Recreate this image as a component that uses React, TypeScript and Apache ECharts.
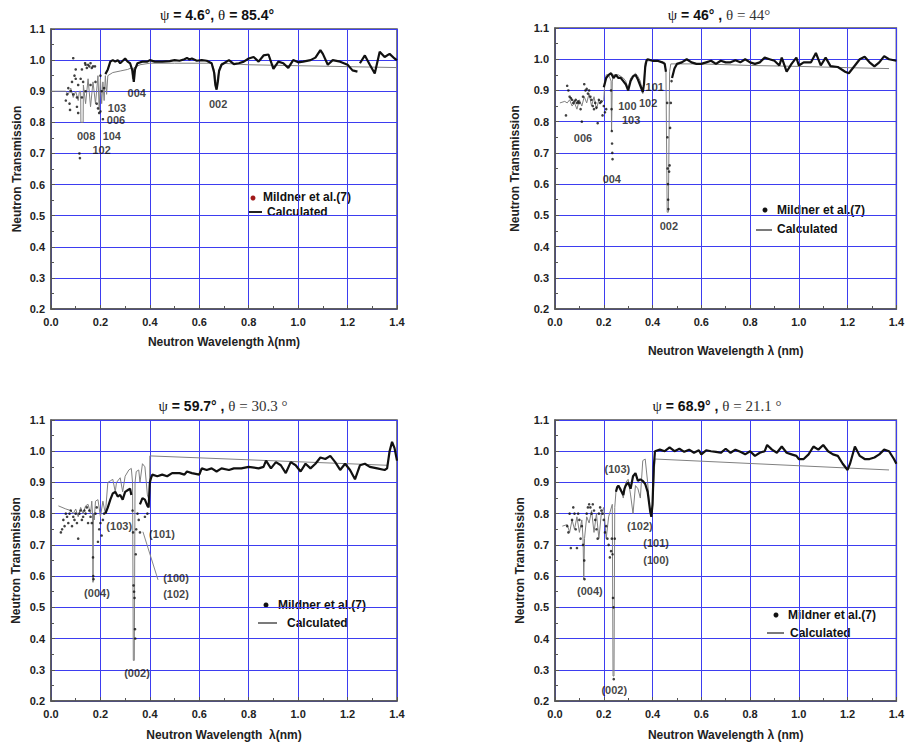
import React, { useEffect, useRef } from "react";
import * as echarts from "echarts";

// ---------- DATA ----------
// Panel 1: psi = 4.6, theta = 85.4
const calc1 = [[0.0,0.90],[0.06,0.90],[0.07,0.89],[0.08,0.91],[0.09,0.88],[0.10,0.90],[0.11,0.87],[0.115,0.90],[0.12,0.90],[0.121,0.80],[0.13,0.80],[0.131,0.92],[0.14,0.86],[0.15,0.94],[0.16,0.85],[0.17,0.93],[0.18,0.86],[0.19,0.95],[0.195,0.84],[0.20,0.94],[0.205,0.86],[0.21,0.93],[0.215,0.87],[0.22,0.95],[0.225,0.89],[0.23,0.95],[0.25,0.96],[0.28,0.965],[0.31,0.97],[0.325,0.975],[0.33,0.94],[0.335,0.975],[0.36,0.985],[0.40,0.99],[0.50,0.99],[0.60,0.99],[0.65,0.99],[0.66,0.97],[0.67,0.92],[0.68,0.97],[0.69,0.99],[0.80,0.985],[1.00,0.982],[1.20,0.979],[1.40,0.976]];
const meas1Line = [[0.22,0.955],[0.23,0.97],[0.24,0.995],[0.25,1.0],[0.26,0.995],[0.27,1.0],[0.28,0.99],[0.30,1.005],[0.31,0.995],[0.32,0.99],[0.33,0.965],[0.335,0.93],[0.34,0.97],[0.35,0.99],[0.37,0.995],[0.39,0.995],[0.40,1.0],[0.42,0.995],[0.45,0.995],[0.48,0.997],[0.50,1.0],[0.52,0.998],[0.54,1.003],[0.55,1.007],[0.56,1.002],[0.57,1.005],[0.59,0.998],[0.61,1.0],[0.63,0.998],[0.65,0.99],[0.66,0.96],[0.665,0.92],[0.67,0.905],[0.675,0.93],[0.68,0.965],[0.69,0.985],[0.70,0.99],[0.72,1.0],[0.74,0.987],[0.76,0.99],[0.78,0.995],[0.80,1.005],[0.82,1.01],[0.84,0.995],[0.86,1.015],[0.88,1.018],[0.90,0.972],[0.92,0.995],[0.94,0.99],[0.96,0.975],[0.98,1.0],[1.00,0.993],[1.02,0.995],[1.05,1.0],[1.07,1.008],[1.09,1.032],[1.10,1.02],[1.12,0.985],[1.14,1.0],[1.17,0.995],[1.20,0.985],[1.22,0.967],[1.24,0.963],[1.245,"-"],[1.25,0.99],[1.27,1.015],[1.29,0.985],[1.31,0.957],[1.33,1.027],[1.35,1.01],[1.37,1.02],[1.39,1.005],[1.40,1.0]];
const meas1Dots = [[0.06,0.87],[0.065,0.89],[0.07,0.91],[0.075,0.86],[0.077,0.84],[0.08,0.90],[0.085,0.93],[0.09,0.89],[0.09,1.006],[0.095,0.95],[0.10,0.97],[0.10,0.94],[0.105,0.88],[0.105,0.85],[0.11,0.92],[0.11,0.83],[0.115,0.70],[0.117,0.685],[0.12,0.94],[0.125,0.97],[0.13,0.93],[0.138,0.99],[0.14,0.985],[0.145,0.975],[0.15,0.985],[0.155,0.98],[0.16,0.99],[0.165,0.975],[0.17,0.98],[0.178,0.98],[0.18,0.93],[0.185,0.86],[0.19,0.845],[0.195,0.83],[0.20,0.835],[0.205,0.90],[0.21,0.81],[0.215,0.91],[0.125,0.88],[0.14,0.90],[0.16,0.92],[0.20,0.95]];
const labels1 = [[0.347,0.894,"004"],[0.676,0.859,"002"],[0.267,0.847,"103"],[0.263,0.807,"006"],[0.142,0.756,"008"],[0.246,0.756,"104"],[0.205,0.711,"102"]];

// Panel 2: psi = 46, theta = 44
const calc2 = [[0.02,0.86],[0.04,0.865],[0.05,0.86],[0.06,0.87],[0.07,0.85],[0.08,0.86],[0.09,0.84],[0.10,0.87],[0.11,0.85],[0.12,0.88],[0.13,0.86],[0.14,0.89],[0.15,0.85],[0.16,0.88],[0.17,0.84],[0.18,0.87],[0.19,0.86],[0.20,0.87],[0.205,0.93],[0.21,0.95],[0.22,0.95],[0.23,0.93],[0.232,0.77],[0.235,0.93],[0.24,0.95],[0.26,0.95],[0.28,0.94],[0.29,0.93],[0.30,0.905],[0.31,0.94],[0.33,0.955],[0.34,0.945],[0.35,0.93],[0.36,0.89],[0.365,0.93],[0.37,0.99],[0.38,0.995],[0.42,0.995],[0.45,0.99],[0.455,0.96],[0.46,0.51],[0.465,0.51],[0.47,0.96],[0.475,0.985],[0.60,0.985],[0.80,0.98],[1.00,0.977],[1.20,0.973],[1.37,0.97]];
const meas2Line = [[0.20,0.91],[0.21,0.94],[0.22,0.95],[0.23,0.955],[0.24,0.94],[0.25,0.95],[0.26,0.94],[0.27,0.94],[0.28,0.93],[0.29,0.92],[0.30,0.90],[0.31,0.93],[0.32,0.945],[0.33,0.95],[0.34,0.935],[0.35,0.915],[0.36,0.895],[0.365,0.92],[0.37,0.975],[0.375,0.995],[0.38,1.0],[0.40,0.995],[0.42,0.995],[0.44,0.99],[0.45,0.985],[0.455,0.96],[0.457,"-"],[0.48,0.94],[0.49,0.97],[0.50,0.985],[0.52,0.99],[0.54,1.0],[0.56,0.99],[0.58,0.985],[0.60,0.985],[0.62,0.99],[0.64,0.995],[0.66,0.985],[0.68,0.995],[0.70,0.99],[0.72,0.99],[0.74,0.997],[0.76,0.99],[0.78,1.0],[0.80,0.99],[0.82,0.985],[0.84,0.99],[0.86,1.005],[0.88,1.0],[0.90,0.995],[0.92,0.98],[0.93,1.005],[0.95,0.96],[0.97,0.985],[0.99,1.005],[1.00,0.98],[1.02,0.99],[1.05,0.99],[1.07,1.02],[1.09,0.98],[1.11,1.005],[1.13,0.978],[1.16,0.975],[1.19,0.96],[1.205,0.955],[1.23,0.98],[1.25,1.0],[1.27,1.008],[1.29,0.99],[1.31,0.977],[1.33,0.99],[1.35,1.01],[1.37,1.0],[1.40,0.995]];
const meas2Dots = [[0.045,0.82],[0.05,0.915],[0.055,0.90],[0.06,0.88],[0.065,0.875],[0.07,0.87],[0.075,0.86],[0.08,0.865],[0.085,0.87],[0.09,0.86],[0.095,0.865],[0.10,0.86],[0.105,0.84],[0.11,0.80],[0.115,0.88],[0.12,0.92],[0.125,0.90],[0.13,0.905],[0.135,0.89],[0.14,0.90],[0.145,0.88],[0.15,0.87],[0.155,0.85],[0.16,0.84],[0.165,0.86],[0.17,0.845],[0.175,0.795],[0.18,0.87],[0.185,0.86],[0.19,0.865],[0.195,0.82],[0.20,0.85],[0.205,0.83],[0.21,0.84],[0.23,0.90],[0.232,0.84],[0.233,0.77],[0.234,0.73],[0.235,0.70],[0.236,0.68],[0.46,0.86],[0.461,0.75],[0.462,0.65],[0.463,0.60],[0.464,0.55],[0.465,0.52],[0.468,0.64],[0.47,0.66],[0.472,0.78],[0.475,0.86],[0.478,0.93]];
const labels2 = [[0.409,0.911,"101"],[0.297,0.851,"100"],[0.382,0.86,"102"],[0.312,0.804,"103"],[0.115,0.747,"006"],[0.233,0.616,"004"],[0.467,0.466,"002"]];

// Panel 3: psi = 59.7, theta = 30.3
const calc3 = [[0.03,0.825],[0.06,0.815],[0.08,0.81],[0.09,0.80],[0.10,0.815],[0.11,0.79],[0.12,0.82],[0.13,0.80],[0.14,0.825],[0.15,0.83],[0.16,0.80],[0.165,0.84],[0.168,0.80],[0.17,0.58],[0.172,0.80],[0.175,0.78],[0.18,0.84],[0.19,0.845],[0.20,0.79],[0.21,0.84],[0.22,0.80],[0.23,0.90],[0.24,0.905],[0.25,0.91],[0.26,0.87],[0.265,0.90],[0.28,0.915],[0.29,0.87],[0.30,0.92],[0.315,0.94],[0.325,0.945],[0.33,0.90],[0.333,0.33],[0.337,0.33],[0.34,0.90],[0.345,0.935],[0.355,0.94],[0.36,0.90],[0.37,0.96],[0.38,0.95],[0.39,0.86],[0.398,0.84],[0.40,0.985],[1.36,0.955]];
const meas3Line = [[0.22,0.80],[0.23,0.82],[0.24,0.845],[0.25,0.865],[0.26,0.87],[0.27,0.855],[0.28,0.86],[0.29,0.845],[0.30,0.87],[0.31,0.875],[0.32,0.88],[0.325,0.86],[0.33,"-"],[0.36,0.83],[0.37,0.85],[0.38,0.845],[0.39,0.825],[0.395,0.82],[0.40,0.90],[0.405,0.915],[0.41,0.925],[0.43,0.92],[0.45,0.925],[0.47,0.92],[0.49,0.93],[0.52,0.93],[0.54,0.925],[0.55,0.935],[0.57,0.93],[0.60,0.925],[0.61,0.945],[0.63,0.94],[0.65,0.945],[0.67,0.935],[0.69,0.945],[0.72,0.94],[0.74,0.945],[0.77,0.945],[0.80,0.95],[0.84,0.945],[0.86,0.95],[0.87,0.97],[0.89,0.945],[0.91,0.965],[0.93,0.955],[0.95,0.93],[0.97,0.965],[0.99,0.955],[1.01,0.935],[1.03,0.96],[1.05,0.945],[1.07,0.96],[1.09,0.98],[1.11,0.975],[1.13,0.985],[1.15,0.965],[1.17,0.94],[1.19,0.96],[1.21,0.94],[1.23,0.91],[1.25,0.955],[1.27,0.96],[1.29,0.95],[1.32,0.945],[1.35,0.94],[1.36,0.945],[1.37,1.0],[1.38,1.03],[1.39,1.01],[1.40,0.97]];
const meas3Dots = [[0.04,0.74],[0.045,0.75],[0.05,0.78],[0.055,0.76],[0.06,0.80],[0.065,0.79],[0.07,0.77],[0.075,0.80],[0.08,0.81],[0.085,0.76],[0.09,0.79],[0.095,0.78],[0.10,0.80],[0.105,0.77],[0.11,0.72],[0.115,0.80],[0.12,0.81],[0.125,0.78],[0.13,0.79],[0.135,0.81],[0.14,0.80],[0.145,0.82],[0.15,0.77],[0.155,0.81],[0.16,0.79],[0.165,0.77],[0.17,0.66],[0.171,0.60],[0.172,0.59],[0.18,0.80],[0.185,0.82],[0.19,0.71],[0.195,0.75],[0.20,0.77],[0.205,0.73],[0.21,0.78],[0.215,0.80],[0.33,0.81],[0.332,0.74],[0.334,0.57],[0.336,0.55],[0.338,0.53],[0.34,0.43],[0.341,0.40],[0.343,0.67],[0.345,0.75],[0.35,0.80],[0.355,0.78],[0.36,0.74],[0.38,0.79],[0.39,0.80]];
const labels3 = [[0.276,0.76,"(103)"],[0.449,0.734,"(101)"],[0.186,0.545,"(004)"],[0.506,0.593,"(100)"],[0.506,0.542,"(102)"],[0.348,0.29,"(002)"]];
const leader3 = [[0.372,0.742],[0.433,0.588]];

// Panel 4: psi = 68.9, theta = 21.1
const calc4 = [[0.03,0.76],[0.05,0.765],[0.06,0.74],[0.07,0.78],[0.08,0.75],[0.09,0.79],[0.10,0.74],[0.11,0.78],[0.115,0.72],[0.118,0.59],[0.121,0.72],[0.13,0.79],[0.14,0.77],[0.15,0.81],[0.16,0.74],[0.17,0.80],[0.18,0.72],[0.19,0.80],[0.20,0.82],[0.21,0.72],[0.22,0.79],[0.235,0.83],[0.238,0.28],[0.242,0.28],[0.245,0.82],[0.25,0.87],[0.26,0.89],[0.27,0.88],[0.28,0.85],[0.29,0.90],[0.30,0.91],[0.31,0.86],[0.32,0.80],[0.33,0.89],[0.34,0.88],[0.35,0.85],[0.36,0.97],[0.37,0.975],[0.38,0.90],[0.39,0.80],[0.40,0.82],[0.41,0.975],[1.37,0.94]];
const meas4Line = [[0.25,0.87],[0.255,0.885],[0.26,0.89],[0.27,0.875],[0.28,0.86],[0.285,0.88],[0.29,0.89],[0.30,0.90],[0.31,0.88],[0.32,0.92],[0.33,0.93],[0.34,0.905],[0.35,0.91],[0.36,0.905],[0.37,0.895],[0.38,0.87],[0.39,0.81],[0.395,0.79],[0.40,0.83],[0.405,0.95],[0.41,1.0],[0.43,1.005],[0.45,1.0],[0.47,1.012],[0.49,1.0],[0.51,1.008],[0.53,0.998],[0.55,1.005],[0.57,0.995],[0.59,1.003],[0.60,0.99],[0.62,1.003],[0.64,1.0],[0.66,0.998],[0.68,0.995],[0.70,1.008],[0.72,0.995],[0.74,1.005],[0.76,0.998],[0.78,0.99],[0.80,1.0],[0.82,0.985],[0.84,0.995],[0.86,1.0],[0.87,1.02],[0.89,1.005],[0.91,0.995],[0.93,1.015],[0.95,0.995],[0.97,0.99],[0.99,0.985],[1.00,0.975],[1.02,0.975],[1.04,0.99],[1.06,1.015],[1.08,1.005],[1.10,1.02],[1.12,1.0],[1.14,0.99],[1.16,0.985],[1.18,0.96],[1.20,0.94],[1.21,0.96],[1.23,1.015],[1.25,0.985],[1.27,0.975],[1.29,0.975],[1.31,0.98],[1.33,0.99],[1.35,1.005],[1.37,1.0],[1.39,0.975],[1.40,0.96]];
const meas4Dots = [[0.05,0.76],[0.055,0.74],[0.06,0.80],[0.065,0.69],[0.07,0.78],[0.075,0.82],[0.08,0.80],[0.085,0.75],[0.09,0.69],[0.095,0.80],[0.10,0.78],[0.105,0.72],[0.11,0.76],[0.115,0.70],[0.12,0.65],[0.121,0.59],[0.13,0.80],[0.135,0.82],[0.14,0.83],[0.145,0.82],[0.15,0.80],[0.155,0.83],[0.16,0.81],[0.165,0.78],[0.17,0.75],[0.175,0.72],[0.18,0.80],[0.185,0.82],[0.19,0.81],[0.195,0.80],[0.20,0.78],[0.205,0.74],[0.21,0.76],[0.215,0.72],[0.22,0.70],[0.225,0.66],[0.23,0.68],[0.233,0.72],[0.236,0.67],[0.238,0.53],[0.24,0.50],[0.241,0.27],[0.245,0.72]];
const labels4 = [[0.256,0.943,"(103)"],[0.348,0.761,"(102)"],[0.415,0.705,"(101)"],[0.415,0.653,"(100)"],[0.143,0.551,"(004)"],[0.243,0.236,"(002)"]];

const xNames = ["Neutron Wavelength λ(nm)", "Neutron Wavelength λ (nm)", "Neutron Wavelength  λ(nm)", "Neutron Wavelength λ (nm)"];
const yName = "Neutron Transmission";
const titles = [
  "{g|ψ}{b| = 4.6°, }{g|θ}{b| = 85.4°}",
  "{g|ψ}{b| = 46° , }{s|θ = 44°}",
  "{g|ψ}{b| = 59.7° , }{s|θ = 30.3 °}",
  "{g|ψ}{b| = 68.9° , }{s|θ = 21.1 °}",
];
const legendNames = ["Mildner et al.(7)", "Calculated"];

// ---------- LAYOUT ----------
const FONT = "'Liberation Sans', Arial, sans-serif";
const SERIF = "'Liberation Serif', 'Times New Roman', serif";
const grids = [
  { left: 51, top: 29, width: 346, height: 280 },
  { left: 555, top: 28, width: 346, height: 281 },
  { left: 51, top: 420, width: 346, height: 281 },
  { left: 555, top: 420, width: 346, height: 281 },
];
const xNameGaps = [27, 36, 28, 28];
const yNameGaps = [28, 34, 29, 29];
const titlePos = [[217, 15], [719, 15], [223, 406], [717, 406]];
const legendPos = [
  { dot: [253, 198], t1: [263, 197], line: [248, 262, 212], t2: [267, 212], dotColor: "#a01818", lw: 2 },
  { dot: [765, 210], t1: [777, 210], line: [756, 772, 230], t2: [777, 229], dotColor: "#111", lw: 1.2 },
  { dot: [266, 605], t1: [278, 605], line: [258, 277, 623], t2: [287, 623], dotColor: "#111", lw: 1.2 },
  { dot: [776, 615], t1: [788, 615], line: [767, 784, 633], t2: [790, 633], dotColor: "#111", lw: 1.2 },
];

const panels = [
  { calc: calc1, line: meas1Line, dots: meas1Dots, labels: labels1 },
  { calc: calc2, line: meas2Line, dots: meas2Dots, labels: labels2 },
  { calc: calc3, line: meas3Line, dots: meas3Dots, labels: labels3 },
  { calc: calc4, line: meas4Line, dots: meas4Dots, labels: labels4 },
];

const GRIDLINE = "#3d3df0";
const AXISCOLOR = "#555";

function buildOption() {
  const grid = grids.map((g) => ({ ...g, show: true, borderColor: AXISCOLOR, borderWidth: 1.5, backgroundColor: "transparent" }));
  const xAxis = grids.map((_, i) => ({
    type: "value",
    gridIndex: i,
    min: 0,
    max: 1.4,
    interval: 0.2,
    name: xNames[i],
    nameLocation: "middle",
    nameGap: xNameGaps[i],
    nameTextStyle: { fontFamily: FONT, fontWeight: "bold", fontSize: 12, color: "#222" },
    axisLine: { show: true, onZero: false, lineStyle: { color: AXISCOLOR, width: 1.5 } },
    axisTick: { show: true, inside: true, length: 4, lineStyle: { color: AXISCOLOR } },
    minorTick: { show: true, splitNumber: 2, length: 3, lineStyle: { color: AXISCOLOR } },
    axisLabel: { fontFamily: FONT, fontWeight: "bold", fontSize: 11, color: "#222", margin: 7, formatter: (v: number) => v.toFixed(1) },
    splitLine: { show: true, lineStyle: { color: GRIDLINE, width: 1 } },
  }));
  const yAxis = grids.map((_, i) => ({
    type: "value",
    gridIndex: i,
    min: 0.2,
    max: 1.1,
    interval: 0.1,
    name: yName,
    nameLocation: "middle",
    nameGap: yNameGaps[i],
    nameTextStyle: { fontFamily: FONT, fontWeight: "bold", fontSize: 12, color: "#222" },
    axisLine: { show: true, onZero: false, lineStyle: { color: AXISCOLOR, width: 1.5 } },
    axisTick: { show: true, inside: true, length: 4, lineStyle: { color: AXISCOLOR } },
    minorTick: { show: true, splitNumber: 2, length: 3, lineStyle: { color: AXISCOLOR } },
    axisLabel: { fontFamily: FONT, fontWeight: "bold", fontSize: 11, color: "#222", margin: 6, formatter: (v: number) => v.toFixed(1) },
    splitLine: { show: true, lineStyle: { color: GRIDLINE, width: 1 } },
  }));

  const series: any[] = [];
  panels.forEach((p, i) => {
    series.push({
      type: "line", name: "Calculated", xAxisIndex: i, yAxisIndex: i, data: p.calc,
      showSymbol: false, lineStyle: { color: "#808080", width: 1 }, z: 2, silent: true,
    });
    series.push({
      type: "line", name: "Mildner et al.(7)", xAxisIndex: i, yAxisIndex: i, data: p.line,
      showSymbol: false, connectNulls: false, lineStyle: { color: "#111", width: 2.2 }, z: 3, silent: true,
    });
    series.push({
      type: "scatter", name: "Mildner et al.(7) dots", xAxisIndex: i, yAxisIndex: i, data: p.dots,
      symbolSize: 2.6, itemStyle: { color: "#111" }, z: 4, silent: true,
    });
    series.push({
      type: "scatter", name: "labels", xAxisIndex: i, yAxisIndex: i, data: p.labels,
      symbolSize: 0, z: 5, silent: true,
      itemStyle: { color: "transparent" },
      label: {
        show: true, position: "inside", formatter: (d: any) => d.data[2],
        fontFamily: FONT, fontWeight: "bold", fontSize: 11, color: "#111",
        textBorderWidth: 0, textBorderColor: "transparent",
      },
      labelLayout: { hideOverlap: false },
    });
  });
  series.push({
    type: "line", name: "leader", xAxisIndex: 2, yAxisIndex: 2, data: leader3,
    showSymbol: false, lineStyle: { color: "#888", width: 1 }, z: 2, silent: true,
  });

  const rich = {
    g: { fontFamily: SERIF, fontSize: 15, fontWeight: "normal", fill: "#111" },
    b: { fontFamily: FONT, fontSize: 14, fontWeight: "bold", fill: "#111" },
    s: { fontFamily: SERIF, fontSize: 15, fontWeight: "normal", fill: "#333" },
  };
  const graphic: any[] = [];
  titles.forEach((t, i) => {
    graphic.push({
      type: "text", x: titlePos[i][0], y: titlePos[i][1], silent: true,
      style: { text: t, rich, align: "center", verticalAlign: "middle", fill: "#111" },
    });
  });
  legendPos.forEach((l) => {
    graphic.push({ type: "circle", shape: { cx: l.dot[0], cy: l.dot[1], r: 2.5 }, style: { fill: l.dotColor }, silent: true });
    graphic.push({
      type: "text", x: l.t1[0], y: l.t1[1], silent: true,
      style: { text: legendNames[0], fontFamily: FONT, fontWeight: "bold", fontSize: 12, fill: "#111", align: "left", verticalAlign: "middle" },
    });
    graphic.push({
      type: "line", shape: { x1: l.line[0], y1: l.line[2], x2: l.line[1], y2: l.line[2] },
      style: { stroke: "#222", lineWidth: l.lw }, silent: true,
    });
    graphic.push({
      type: "text", x: l.t2[0], y: l.t2[1], silent: true,
      style: { text: legendNames[1], fontFamily: FONT, fontWeight: "bold", fontSize: 12, fill: "#111", align: "left", verticalAlign: "middle" },
    });
  });

  return {
    animation: false,
    backgroundColor: "#fff",
    grid,
    xAxis,
    yAxis,
    series,
    graphic,
  };
}

export default function App() {
  const ref = useRef<HTMLDivElement>(null);
  useEffect(() => {
    if (!ref.current) return;
    const chart = echarts.init(ref.current, null, { renderer: "svg" });
    chart.setOption(buildOption() as any);
    return () => chart.dispose();
  }, []);
  return (
    <div
      ref={ref}
      style={{ position: "absolute", left: 0, top: 0, width: 907, height: 748, background: "#fff" }}
    />
  );
}
